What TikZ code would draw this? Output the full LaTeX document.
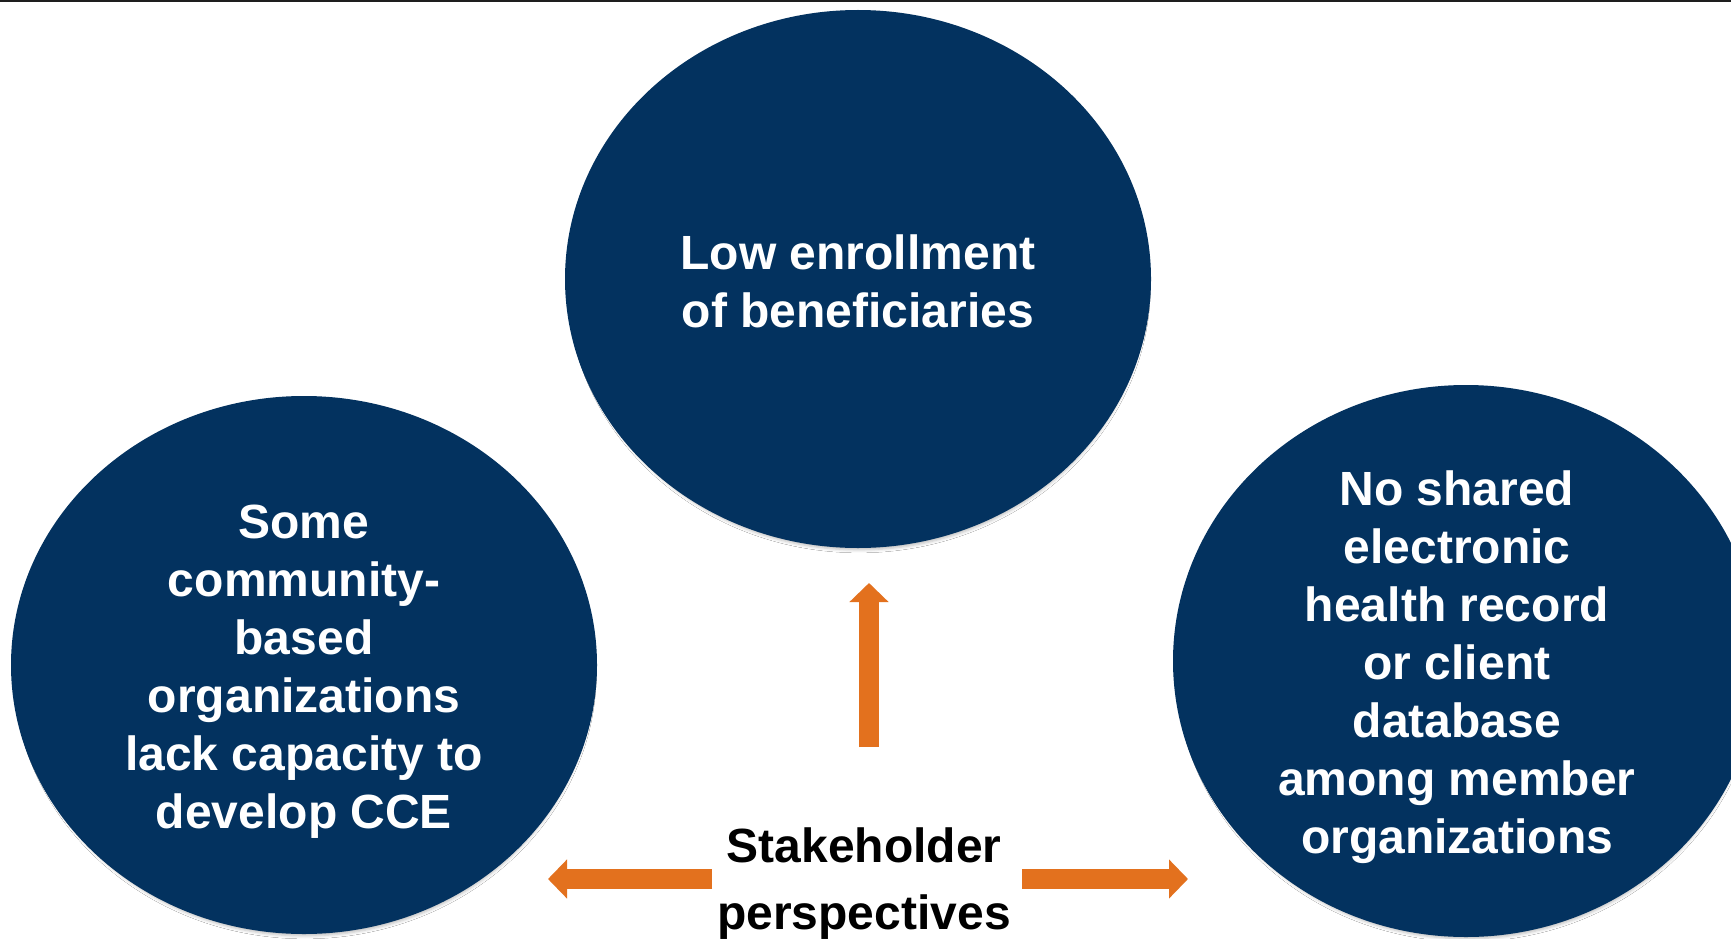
\documentclass[tikz,border=0pt]{standalone}
\usepackage{fontspec}
\setmainfont{Liberation Sans}
\usetikzlibrary{shapes.geometric,arrows.meta,shadows.blur}
\definecolor{navy}{HTML}{03325F}
\definecolor{pumpkin}{HTML}{E3711E}
\definecolor{rule}{HTML}{1E1E1E}
\begin{document}
\begin{tikzpicture}[x=1pt,y=-1pt,
  bubble/.style={ellipse,fill=navy,draw=none,inner sep=0pt,
    minimum width=586pt,minimum height=538pt,
    blur shadow={shadow scale=0.985,shadow xshift=1pt,shadow yshift=-6pt,
      shadow blur radius=3pt,shadow opacity=25}},
  bubbletext/.style={text=white,align=center,inner sep=0pt,
    font=\bfseries\fontsize{48}{58}\selectfont},
  hubtext/.style={text=black,align=center,inner sep=0pt,
    font=\bfseries\fontsize{48}{67}\selectfont},
  push/.style={draw=pumpkin,line width=20pt,line cap=butt,
    -{Triangle[width=38pt,length=19pt]}}]
\useasboundingbox (0,0) rectangle (1731,939);
\clip (0,0) rectangle (1731,939);
\fill[white] (0,0) rectangle (1731,939);
% thin rule along the top edge
\fill[rule] (0,0) rectangle (1731,2.5);

% the three issue bubbles
\node[bubble] (top) at (858,279) {};
\node[bubble] (left) at (304,665) {};
\node[bubble,minimum height=552pt] (right) at (1466,661) {};

\node[bubbletext] (toptext) at (858,281) {Low enrollment\\of beneficiaries};
\node[bubbletext] (lefttext) at (304,672)
  {Some\\community-\\based\\organizations\\lack capacity to\\develop CCE};
\node[bubbletext] (righttext) at (1457,667)
  {No shared\\electronic\\health record\\or client\\database\\among member\\organizations};

% central label with its three arrows
\node[hubtext] (hub) at (864,884) {Stakeholder\\perspectives};

\coordinate (upfrom) at (869,747);
\coordinate (upto) at (869,583);
\coordinate (leftfrom) at (712,879);
\coordinate (leftto) at (548,879);
\coordinate (rightfrom) at (1022,879);
\coordinate (rightto) at (1188,879);

\draw[push] (upfrom) -- (upto);
\draw[push] (leftfrom) -- (leftto);
\draw[push] (rightfrom) -- (rightto);
\end{tikzpicture}
\end{document}
